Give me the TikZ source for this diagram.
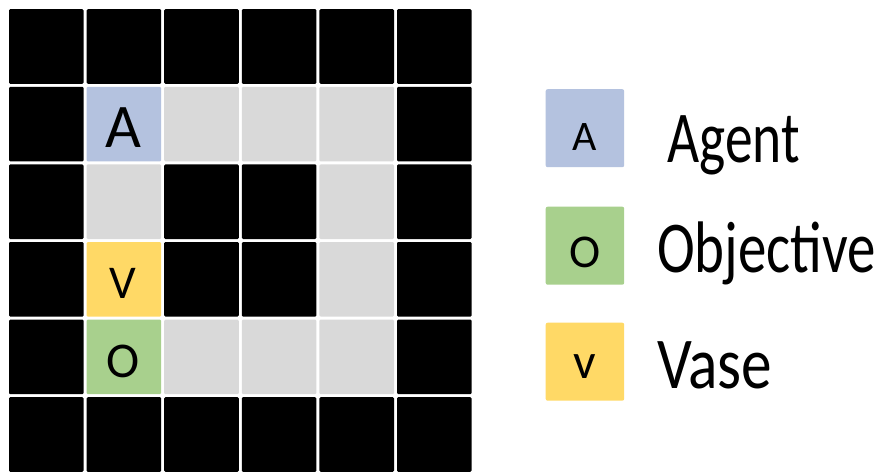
\documentclass[tikz,border=0pt]{standalone}
\usepackage{fontspec}
\setmainfont{Carlito}
\definecolor{cb}{RGB}{0,0,0}
\definecolor{cg}{RGB}{217,217,217}
\definecolor{cA}{RGB}{180,194,223}
\definecolor{cO}{RGB}{168,208,141}
\definecolor{cV}{RGB}{255,217,102}
\begin{document}
\begin{tikzpicture}[x=1pt,y=-1pt,
  cell/.style={draw=none, minimum width=74.6pt, minimum height=74.6pt, inner sep=0pt, rounded corners=1.2pt, anchor=north west},
  lbox/.style={draw=none, minimum width=78.5pt, minimum height=78pt, inner sep=0pt, rounded corners=2pt, anchor=north west},
  glyph/.style={inner sep=0pt, anchor=base, text=black},
  label/.style={inner sep=0pt, anchor=base west, text=black, font=\fontsize{73}{80}\selectfont}]
\useasboundingbox[fill=white] (0,0) rectangle (885,471);
% grid
\foreach \row [count=\r from 0] in {{b,b,b,b,b,b},{b,A,g,g,g,b},{b,g,b,b,g,b},{b,V,b,b,g,b},{b,O,g,g,g,b},{b,b,b,b,b,b}}{
  \foreach \t [count=\c from 0] in \row {
    \node[cell, fill=c\t] (cell-\r-\c) at ({8.8+77.6*\c},{9+77.6*\r}) {};
  }
}
% grid letters
\node[glyph, font=\fontsize{62}{70}\selectfont] (gA) at (123.3,147) {A};
\node[glyph, font=\fontsize{47}{55}\selectfont] (gV) at (123.3,298) {V};
\node[glyph, font=\fontsize{50}{58}\selectfont] (gO) at (123.3,377) {O};
% legend
\node[lbox, fill=cA] (lA) at (545.5,89) {};
\node[lbox, fill=cO] (lO) at (545.5,206.5) {};
\node[lbox, fill=cV] (lV) at (545.5,322.5) {};
\node[glyph, font=\fontsize{42}{50}\selectfont] (tA) at (585,150) {A};
\node[glyph, font=\fontsize{47}{55}\selectfont] (tO) at (585,267.5) {O};
\node[glyph, font=\fontsize{50}{58}\selectfont] (tV) at (585,378) {v};
\node[label] (nA) at (667,162) {\scalebox{0.76}[1]{Agent}};
\node[label] (nO) at (657,272) {\scalebox{0.78}[1]{Objective}};
\node[label] (nV) at (657,388) {\scalebox{0.84}[1]{Vase}};
\end{tikzpicture}
\end{document}
